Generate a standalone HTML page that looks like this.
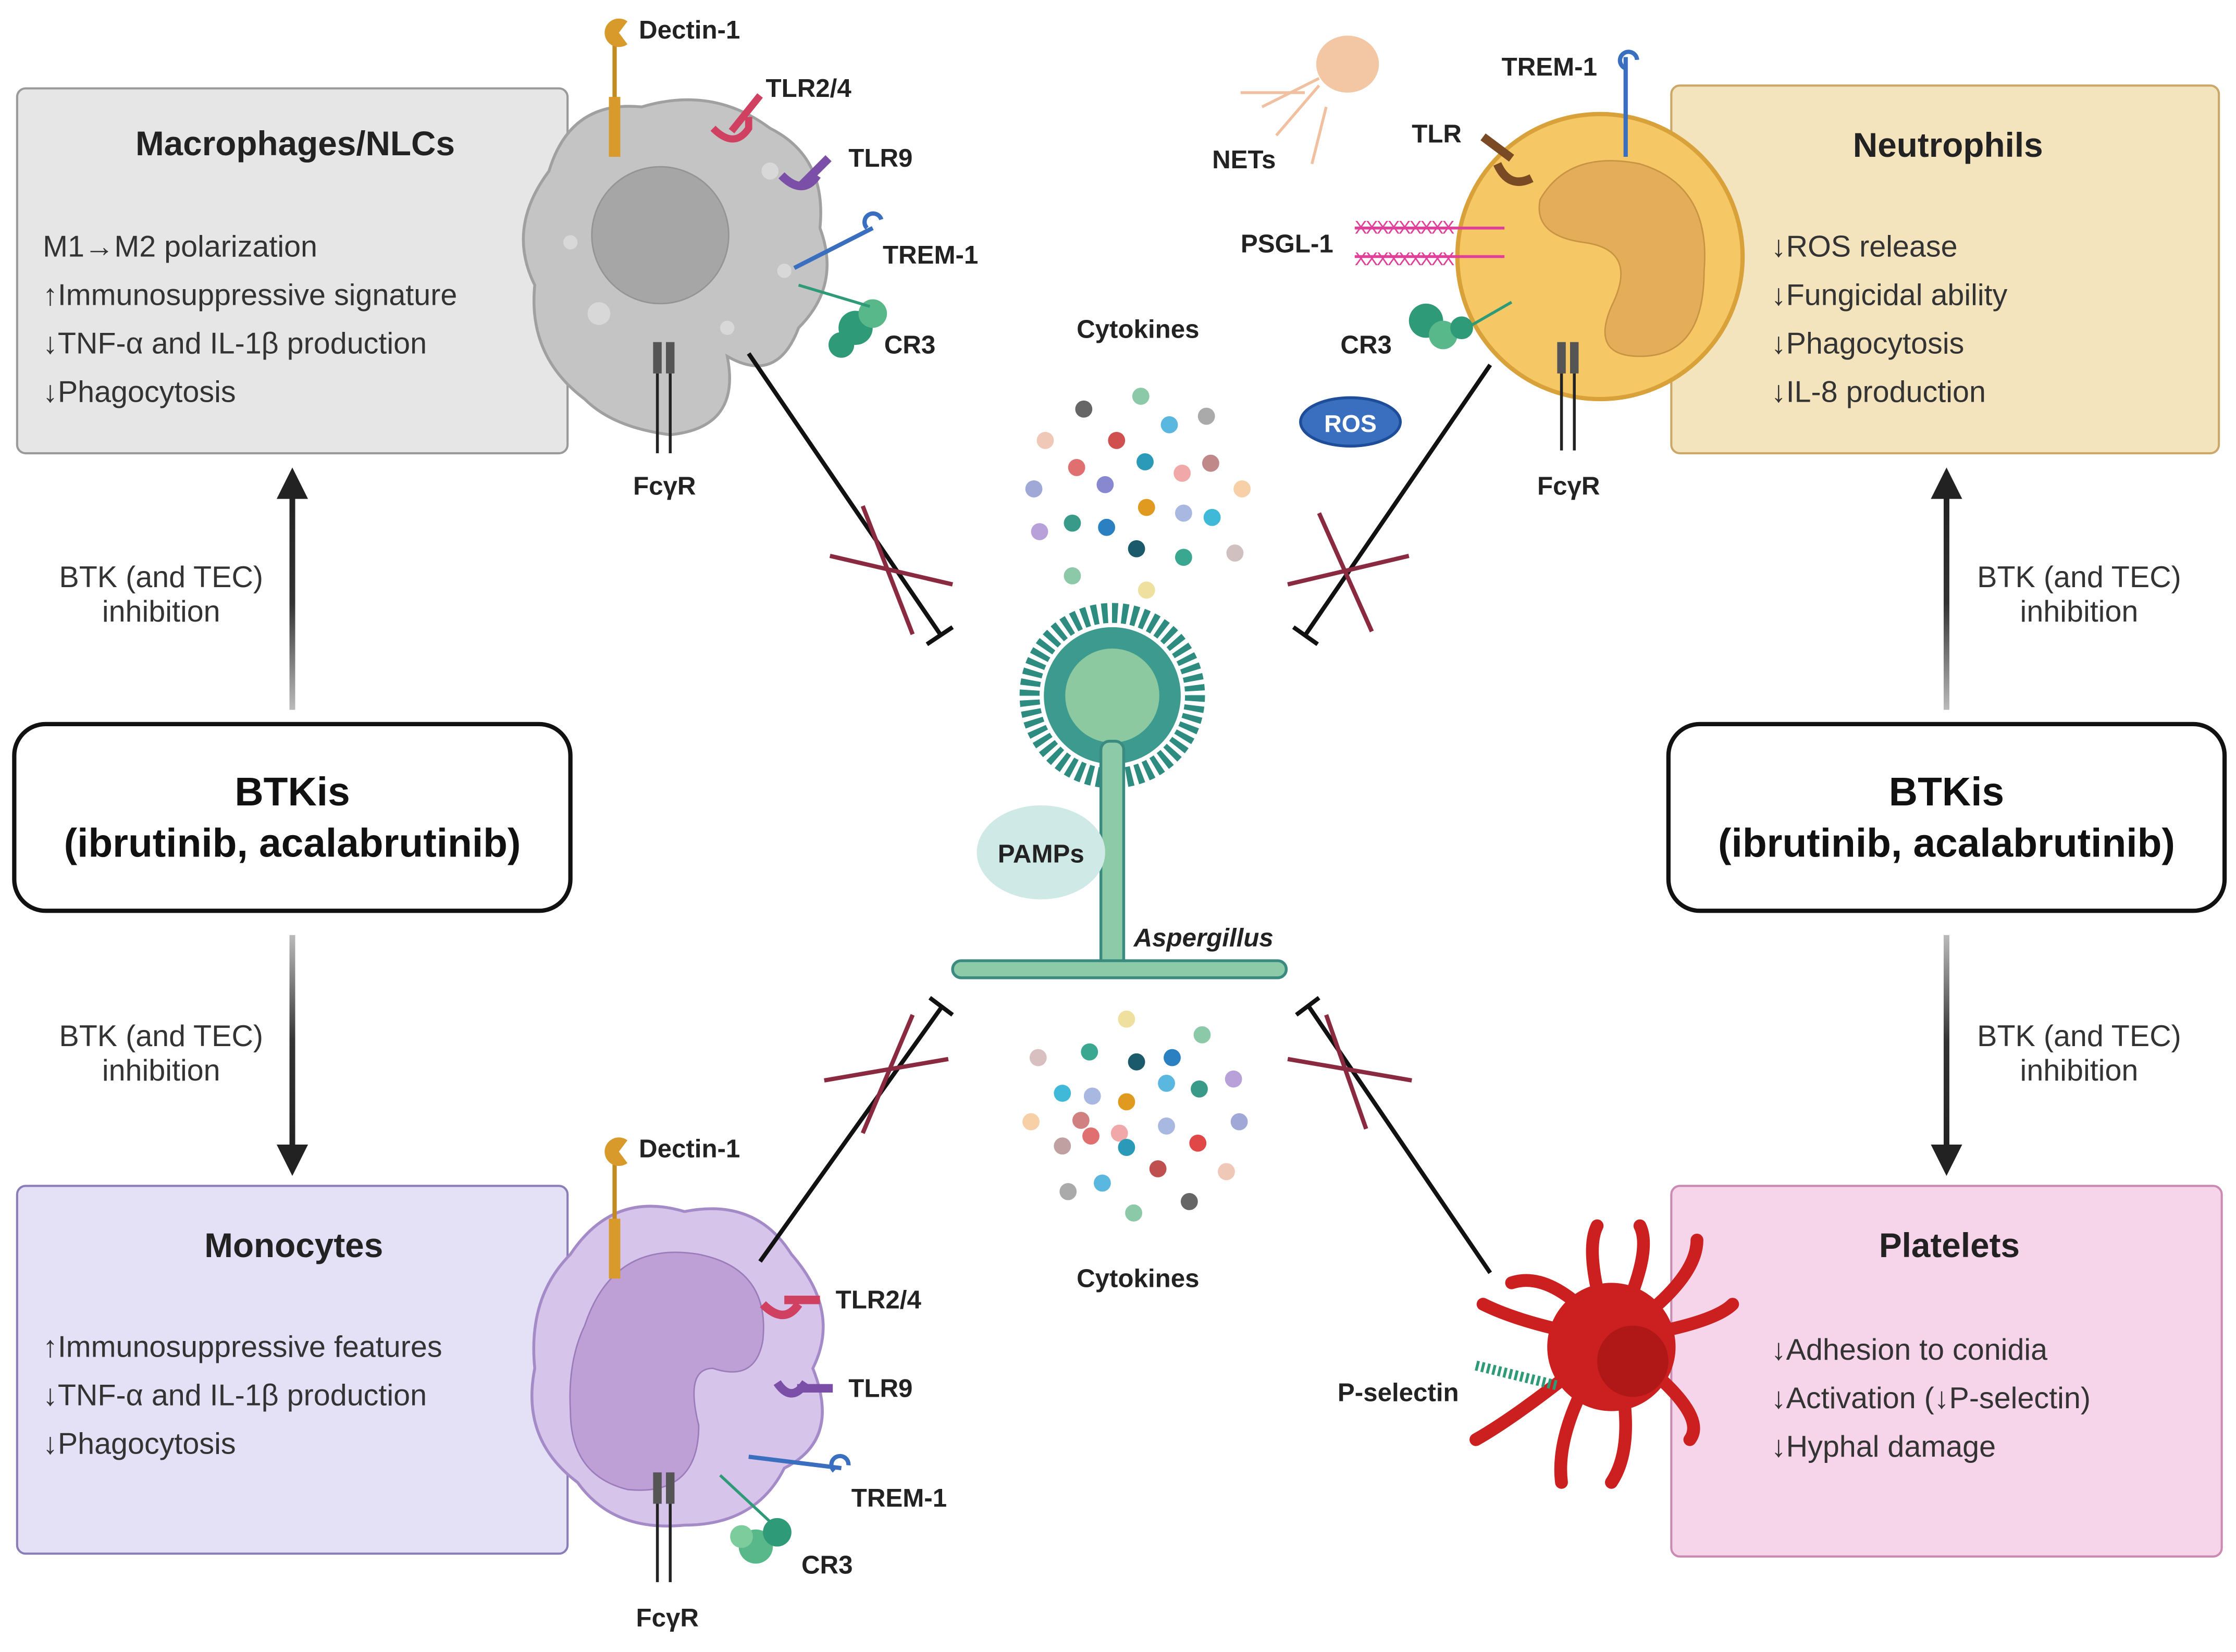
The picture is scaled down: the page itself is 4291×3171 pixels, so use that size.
<!DOCTYPE html>
<html><head><meta charset="utf-8"><style>
html,body{margin:0;padding:0;background:#fff;}
svg{display:block;}
text{font-family:"Liberation Sans",sans-serif;}
</style></head><body>
<svg width="4291" height="3171" viewBox="0 0 1568 1159" preserveAspectRatio="none" xmlns="http://www.w3.org/2000/svg">
<defs>
<linearGradient id="gup" x1="0" y1="0" x2="0" y2="1"><stop offset="0" stop-color="#222"/><stop offset="0.5" stop-color="#333"/><stop offset="1" stop-color="#bbb"/></linearGradient>
<linearGradient id="gdn" x1="0" y1="0" x2="0" y2="1"><stop offset="0" stop-color="#bbb"/><stop offset="0.5" stop-color="#333"/><stop offset="1" stop-color="#222"/></linearGradient>
</defs>
<rect width="1568" height="1159" fill="#fff"/>

<!-- Boxes -->
<rect x="12" y="62" width="386" height="256" rx="6" fill="#e6e6e6" stroke="#9a9a9a" stroke-width="1.5"/>
<rect x="1172" y="60" width="384" height="258" rx="6" fill="#f4e4bd" stroke="#c9a86a" stroke-width="1.5"/>
<rect x="12" y="832" width="386" height="258" rx="6" fill="#e4e0f5" stroke="#8a7db8" stroke-width="1.5"/>
<rect x="1172" y="832" width="386" height="260" rx="6" fill="#f6d5ea" stroke="#c98bb3" stroke-width="1.5"/>

<text x="207" y="109" font-size="24" font-weight="bold" text-anchor="middle" fill="#222">Macrophages/NLCs</text>
<g font-size="21" fill="#333">
<text x="30" y="180">M1→M2 polarization</text>
<text x="30" y="214">↑Immunosuppressive signature</text>
<text x="30" y="248">↓TNF-α and IL-1β production</text>
<text x="30" y="282">↓Phagocytosis</text>
</g>
<text x="1366" y="110" font-size="24" font-weight="bold" text-anchor="middle" fill="#222">Neutrophils</text>
<g font-size="21" fill="#333">
<text x="1242" y="180">↓ROS release</text>
<text x="1242" y="214">↓Fungicidal ability</text>
<text x="1242" y="248">↓Phagocytosis</text>
<text x="1242" y="282">↓IL-8 production</text>
</g>
<text x="206" y="882" font-size="24" font-weight="bold" text-anchor="middle" fill="#222">Monocytes</text>
<g font-size="21" fill="#333">
<text x="30" y="952">↑Immunosuppressive features</text>
<text x="30" y="986">↓TNF-α and IL-1β production</text>
<text x="30" y="1020">↓Phagocytosis</text>
</g>
<text x="1367" y="882" font-size="24" font-weight="bold" text-anchor="middle" fill="#222">Platelets</text>
<g font-size="21" fill="#333">
<text x="1242" y="954">↓Adhesion to conidia</text>
<text x="1242" y="988">↓Activation (↓P-selectin)</text>
<text x="1242" y="1022">↓Hyphal damage</text>
</g>

<!-- BTKis boxes -->
<rect x="10" y="508" width="390" height="131" rx="22" fill="#fff" stroke="#111" stroke-width="3"/>
<text x="205" y="565" font-size="28" font-weight="bold" text-anchor="middle" fill="#111">BTKis</text>
<text x="205" y="601" font-size="28" font-weight="bold" text-anchor="middle" fill="#111">(ibrutinib, acalabrutinib)</text>
<rect x="1170" y="508" width="390" height="131" rx="22" fill="#fff" stroke="#111" stroke-width="3"/>
<text x="1365" y="565" font-size="28" font-weight="bold" text-anchor="middle" fill="#111">BTKis</text>
<text x="1365" y="601" font-size="28" font-weight="bold" text-anchor="middle" fill="#111">(ibrutinib, acalabrutinib)</text>

<!-- vertical arrows -->
<rect x="203" y="348" width="4" height="150" fill="url(#gup)"/>
<rect x="1363" y="348" width="4" height="150" fill="url(#gup)"/>
<rect x="203" y="656" width="4" height="149" fill="url(#gdn)"/>
<rect x="1363" y="656" width="4" height="149" fill="url(#gdn)"/>
<g fill="#222">
<path d="M194,350 L205,328 L216,350z"/>
<path d="M194,803 L205,825 L216,803z"/>
<path d="M1354,350 L1365,328 L1376,350z"/>
<path d="M1354,803 L1365,825 L1376,803z"/>
</g>
<g font-size="21" fill="#333" text-anchor="middle">
<text x="113" y="412">BTK (and TEC)</text><text x="113" y="436">inhibition</text>
<text x="113" y="734">BTK (and TEC)</text><text x="113" y="758">inhibition</text>
<text x="1458" y="412">BTK (and TEC)</text><text x="1458" y="436">inhibition</text>
<text x="1458" y="734">BTK (and TEC)</text><text x="1458" y="758">inhibition</text>
</g>

<!-- Macrophage -->
<path d="M385,120 Q400,70 450,75 Q500,60 540,90 Q580,110 575,160 Q590,200 560,230 Q545,270 510,250 Q520,300 470,305 Q430,300 410,280 Q370,250 375,200 Q355,160 385,120z" fill="#c4c4c4" stroke="#a0a0a0" stroke-width="2"/>
<circle cx="463" cy="165" r="48" fill="#a6a6a6" stroke="#949494"/>
<g fill="#d8d8d8"><circle cx="420" cy="220" r="8"/><circle cx="400" cy="170" r="5"/><circle cx="540" cy="120" r="6"/><circle cx="550" cy="190" r="5"/><circle cx="510" cy="230" r="5"/></g>
<line x1="431" y1="30" x2="431" y2="110" stroke="#c28a22" stroke-width="3"/>
<rect x="427" y="68" width="8" height="42" fill="#d89a2a"/>
<path d="M440,15 a10,10 0 1,0 0,16 l-6,-8z" fill="#d89a2a"/>
<text x="448" y="27" font-size="18" font-weight="bold" fill="#222">Dectin-1</text>
<path d="M500,90 q15,15 25,0 l0,-8 m-12,10 l20,-25" stroke="#d04060" stroke-width="5" fill="none"/>
<text x="537" y="68" font-size="18" font-weight="bold" fill="#222">TLR2/4</text>
<path d="M548,123 q15,15 25,0 m-12,8 l20,-20" stroke="#7b4fa8" stroke-width="6" fill="none"/>
<text x="595" y="117" font-size="18" font-weight="bold" fill="#222">TLR9</text>
<line x1="557" y1="188" x2="612" y2="160" stroke="#3a6fc0" stroke-width="3"/>
<path d="M608,160 a6,6 0 1,1 10,-6" stroke="#3a6fc0" stroke-width="3" fill="none"/>
<text x="619" y="185" font-size="18" font-weight="bold" fill="#222">TREM-1</text>
<circle cx="600" cy="230" r="12" fill="#2f9a78"/><circle cx="612" cy="220" r="10" fill="#59b88a"/><circle cx="590" cy="242" r="9" fill="#2f9a78"/>
<line x1="560" y1="200" x2="610" y2="215" stroke="#2f9a78" stroke-width="2"/>
<text x="620" y="248" font-size="18" font-weight="bold" fill="#222">CR3</text>
<rect x="458" y="240" width="6" height="22" fill="#555"/><rect x="467" y="240" width="6" height="22" fill="#555"/>
<line x1="461" y1="262" x2="461" y2="318" stroke="#222" stroke-width="2"/><line x1="470" y1="262" x2="470" y2="318" stroke="#222" stroke-width="2"/>
<text x="466" y="347" font-size="18" font-weight="bold" text-anchor="middle" fill="#222">FcγR</text>

<!-- Neutrophil -->
<circle cx="1122" cy="180" r="100" fill="#f5c865" stroke="#d9a13a" stroke-width="3"/>
<path d="M1080,140 Q1100,105 1150,115 Q1200,130 1195,190 Q1195,250 1150,250 Q1115,250 1130,215 Q1150,175 1110,170 Q1075,165 1080,140z" fill="#e3ad5a" stroke="#c99344"/>
<line x1="1140" y1="40" x2="1140" y2="110" stroke="#3a6fc0" stroke-width="3"/>
<path d="M1140,48 a6,6 0 1,1 8,-6" stroke="#3a6fc0" stroke-width="3" fill="none"/>
<text x="1053" y="53" font-size="18" font-weight="bold" fill="#222">TREM-1</text>
<path d="M1050,115 q8,18 24,10 m-14,-14 l-20,-15" stroke="#7a4a25" stroke-width="6" fill="none"/>
<text x="990" y="100" font-size="18" font-weight="bold" fill="#222">TLR</text>
<g stroke="#e0409a" stroke-width="2"><line x1="950" y1="160" x2="1055" y2="160"/><line x1="950" y1="180" x2="1055" y2="180"/></g>
<text x="950" y="164" font-size="13" fill="#e0409a" letter-spacing="-1">XXXXXXXXX</text>
<text x="950" y="186" font-size="13" fill="#e0409a" letter-spacing="-1">XXXXXXXXX</text>
<text x="870" y="177" font-size="18" font-weight="bold" fill="#222">PSGL-1</text>
<circle cx="1000" cy="225" r="12" fill="#2f9a78"/><circle cx="1012" cy="235" r="10" fill="#59b88a"/><circle cx="1025" cy="230" r="8" fill="#2f9a78"/>
<line x1="1020" y1="235" x2="1060" y2="212" stroke="#2f9a78" stroke-width="2"/>
<text x="940" y="248" font-size="18" font-weight="bold" fill="#222">CR3</text>
<rect x="1092" y="240" width="6" height="22" fill="#555"/><rect x="1101" y="240" width="6" height="22" fill="#555"/>
<line x1="1095" y1="262" x2="1095" y2="316" stroke="#222" stroke-width="2"/><line x1="1104" y1="262" x2="1104" y2="316" stroke="#222" stroke-width="2"/>
<text x="1100" y="347" font-size="18" font-weight="bold" text-anchor="middle" fill="#222">FcγR</text>
<ellipse cx="947" cy="296" rx="35" ry="17" fill="#3a6fc0" stroke="#1e4d99" stroke-width="2"/>
<text x="947" y="303" font-size="17" font-weight="bold" text-anchor="middle" fill="#fff">ROS</text>
<ellipse cx="945" cy="45" rx="22" ry="20" fill="#f3c7a4"/>
<path d="M925,55 l-40,20 m40,-15 l-30,35 m35,-20 l-10,40 m-5,-50 l-45,0" stroke="#f0c0a0" stroke-width="2" fill="none"/>
<text x="850" y="118" font-size="18" font-weight="bold" fill="#222">NETs</text>

<!-- Monocyte -->
<path d="M400,880 Q430,835 480,850 Q530,840 555,880 Q590,920 570,960 Q590,1010 550,1030 Q530,1070 480,1070 Q430,1075 405,1040 Q365,1010 375,960 Q370,910 400,880z" fill="#d7c4ea" stroke="#a48ac6" stroke-width="2"/>
<path d="M410,930 Q430,870 490,880 Q540,890 535,940 Q530,970 500,960 Q480,960 490,1000 Q490,1050 440,1045 Q400,1035 400,990 Q398,955 410,930z" fill="#bea0d6" stroke="#9a7cbb"/>
<line x1="431" y1="815" x2="431" y2="895" stroke="#c28a22" stroke-width="3"/>
<rect x="427" y="855" width="8" height="42" fill="#d89a2a"/>
<path d="M440,800 a10,10 0 1,0 0,16 l-6,-8z" fill="#d89a2a"/>
<text x="448" y="812" font-size="18" font-weight="bold" fill="#222">Dectin-1</text>
<path d="M535,915 q15,15 25,0 m-10,-3 l25,0" stroke="#d04060" stroke-width="6" fill="none"/>
<text x="586" y="918" font-size="18" font-weight="bold" fill="#222">TLR2/4</text>
<path d="M545,970 q10,15 20,0 m-6,4 l25,0" stroke="#7b4fa8" stroke-width="6" fill="none"/>
<text x="595" y="980" font-size="18" font-weight="bold" fill="#222">TLR9</text>
<line x1="525" y1="1022" x2="590" y2="1030" stroke="#3a6fc0" stroke-width="3"/>
<path d="M585,1032 a6,6 0 1,1 10,-4" stroke="#3a6fc0" stroke-width="3" fill="none"/>
<text x="597" y="1057" font-size="18" font-weight="bold" fill="#222">TREM-1</text>
<circle cx="530" cy="1085" r="12" fill="#59b88a"/><circle cx="545" cy="1075" r="10" fill="#2f9a78"/><circle cx="520" cy="1078" r="8" fill="#7ccc9c"/>
<line x1="505" y1="1035" x2="548" y2="1075" stroke="#2f9a78" stroke-width="2"/>
<text x="562" y="1104" font-size="18" font-weight="bold" fill="#222">CR3</text>
<rect x="458" y="1033" width="6" height="22" fill="#555"/><rect x="467" y="1033" width="6" height="22" fill="#555"/>
<line x1="461" y1="1055" x2="461" y2="1110" stroke="#222" stroke-width="2"/><line x1="470" y1="1055" x2="470" y2="1110" stroke="#222" stroke-width="2"/>
<text x="468" y="1141" font-size="18" font-weight="bold" text-anchor="middle" fill="#222">FcγR</text>

<!-- Platelet -->
<g stroke="#cc2020" stroke-width="9" stroke-linecap="round" fill="none">
<path d="M1130,940 Q1090,890 1060,900"/><path d="M1130,940 Q1110,880 1120,860"/><path d="M1130,940 Q1160,880 1150,860"/><path d="M1130,940 Q1190,900 1190,870"/>
<path d="M1130,940 Q1200,930 1215,915"/><path d="M1130,940 Q1200,990 1185,1010"/><path d="M1130,940 Q1150,1010 1130,1040"/><path d="M1130,940 Q1090,1000 1095,1040"/>
<path d="M1130,940 Q1070,990 1035,1010"/><path d="M1130,940 Q1070,930 1040,915"/>
</g>
<circle cx="1130" cy="945" r="45" fill="#cc2020"/>
<circle cx="1145" cy="955" r="25" fill="#b01818"/>
<line x1="1035" y1="958" x2="1092" y2="972" stroke="#2f9a78" stroke-width="7" stroke-dasharray="2,2"/>
<text x="938" y="983" font-size="18" font-weight="bold" fill="#222">P-selectin</text>

<!-- Cytokines -->
<text x="798" y="237" font-size="18" font-weight="bold" text-anchor="middle" fill="#222">Cytokines</text>
<text x="798" y="903" font-size="18" font-weight="bold" text-anchor="middle" fill="#222">Cytokines</text>
<g>
<circle cx="760" cy="287" r="6" fill="#666"/><circle cx="800" cy="278" r="6" fill="#8cc9a8"/><circle cx="846" cy="292" r="6" fill="#aaa"/><circle cx="733" cy="309" r="6" fill="#f0c8b8"/><circle cx="783" cy="309" r="6" fill="#d05050"/><circle cx="820" cy="298" r="6" fill="#5ab8e0"/>
<circle cx="755" cy="328" r="6" fill="#e07070"/><circle cx="803" cy="324" r="6" fill="#2a9ab8"/><circle cx="829" cy="332" r="6" fill="#f0a8a8"/><circle cx="849" cy="325" r="6" fill="#c08888"/><circle cx="725" cy="343" r="6" fill="#a0a8d8"/><circle cx="775" cy="340" r="6" fill="#8888d0"/>
<circle cx="804" cy="356" r="6" fill="#e09a20"/><circle cx="830" cy="360" r="6" fill="#a8b8e0"/><circle cx="850" cy="363" r="6" fill="#40b8d8"/><circle cx="871" cy="343" r="6" fill="#f8d0a8"/><circle cx="752" cy="367" r="6" fill="#3a9a8a"/><circle cx="776" cy="370" r="6" fill="#2a80c0"/>
<circle cx="729" cy="373" r="6" fill="#b8a0d8"/><circle cx="797" cy="385" r="6" fill="#1a5a6a"/><circle cx="830" cy="391" r="6" fill="#3aa890"/><circle cx="866" cy="388" r="6" fill="#d0c0c0"/><circle cx="752" cy="404" r="6" fill="#8cc9a8"/><circle cx="804" cy="414" r="6" fill="#f0e0a0"/>
<circle cx="790" cy="715" r="6" fill="#f0e0a0"/><circle cx="843" cy="726" r="6" fill="#8cc9a8"/><circle cx="728" cy="742" r="6" fill="#d8c0c0"/><circle cx="764" cy="738" r="6" fill="#3aa890"/><circle cx="797" cy="745" r="6" fill="#1a5a6a"/><circle cx="822" cy="742" r="6" fill="#2a80c0"/>
<circle cx="865" cy="757" r="6" fill="#b8a0d8"/><circle cx="745" cy="767" r="6" fill="#40b8d8"/><circle cx="766" cy="769" r="6" fill="#a8b8e0"/><circle cx="790" cy="773" r="6" fill="#e09a20"/><circle cx="818" cy="760" r="6" fill="#5ab8e0"/><circle cx="841" cy="764" r="6" fill="#3a9a8a"/>
<circle cx="723" cy="787" r="6" fill="#f8d0a8"/><circle cx="758" cy="786" r="6" fill="#d08080"/><circle cx="785" cy="795" r="6" fill="#f0a8a8"/><circle cx="818" cy="790" r="6" fill="#a8b8e0"/><circle cx="869" cy="787" r="6" fill="#a0a8d8"/><circle cx="745" cy="804" r="6" fill="#c0a0a0"/>
<circle cx="765" cy="797" r="6" fill="#e07070"/><circle cx="790" cy="805" r="6" fill="#2a9ab8"/><circle cx="812" cy="820" r="6" fill="#c05050"/><circle cx="840" cy="802" r="6" fill="#e04848"/><circle cx="860" cy="822" r="6" fill="#f0c8b8"/><circle cx="749" cy="836" r="6" fill="#aaa"/>
<circle cx="773" cy="830" r="6" fill="#5ab8e0"/><circle cx="795" cy="851" r="6" fill="#8cc9a8"/><circle cx="834" cy="843" r="6" fill="#666"/>
</g>

<!-- Aspergillus -->
<circle cx="780" cy="488" r="58" fill="none" stroke="#2e8b80" stroke-width="14" stroke-dasharray="4,3"/>
<circle cx="780" cy="488" r="48" fill="#3d9a8e"/>
<circle cx="780" cy="488" r="33" fill="#8cc9a0"/>
<rect x="772" y="520" width="16" height="162" rx="6" fill="#8ccaa8" stroke="#3a8a80" stroke-width="2"/>
<rect x="668" y="674" width="234" height="12" rx="6" fill="#8ccaa8" stroke="#3a8a80" stroke-width="2"/>
<ellipse cx="730" cy="598" rx="45" ry="33" fill="#cfe9e6"/>
<text x="730" y="605" font-size="18" font-weight="bold" text-anchor="middle" fill="#222">PAMPs</text>
<text x="795" y="664" font-size="18" font-weight="bold" font-style="italic" fill="#222">Aspergillus</text>

<!-- Inhibition lines -->
<g stroke="#111" stroke-width="3">
<line x1="525" y1="248" x2="660" y2="446"/><line x1="650" y1="452" x2="668" y2="440"/>
<line x1="1045" y1="256" x2="915" y2="446"/><line x1="907" y1="440" x2="924" y2="452"/>
<line x1="533" y1="885" x2="660" y2="707"/><line x1="652" y1="700" x2="668" y2="712"/>
<line x1="1045" y1="893" x2="917" y2="705"/><line x1="909" y1="712" x2="925" y2="700"/>
</g>
<g stroke="#8a2a40" stroke-width="3">
<line x1="605" y1="355" x2="640" y2="445"/><line x1="582" y1="390" x2="668" y2="410"/>
<line x1="925" y1="360" x2="962" y2="443"/><line x1="903" y1="410" x2="988" y2="390"/>
<line x1="605" y1="795" x2="640" y2="712"/><line x1="578" y1="758" x2="665" y2="743"/>
<line x1="930" y1="712" x2="958" y2="792"/><line x1="903" y1="743" x2="990" y2="758"/>
</g>
</svg>
</body></html>
